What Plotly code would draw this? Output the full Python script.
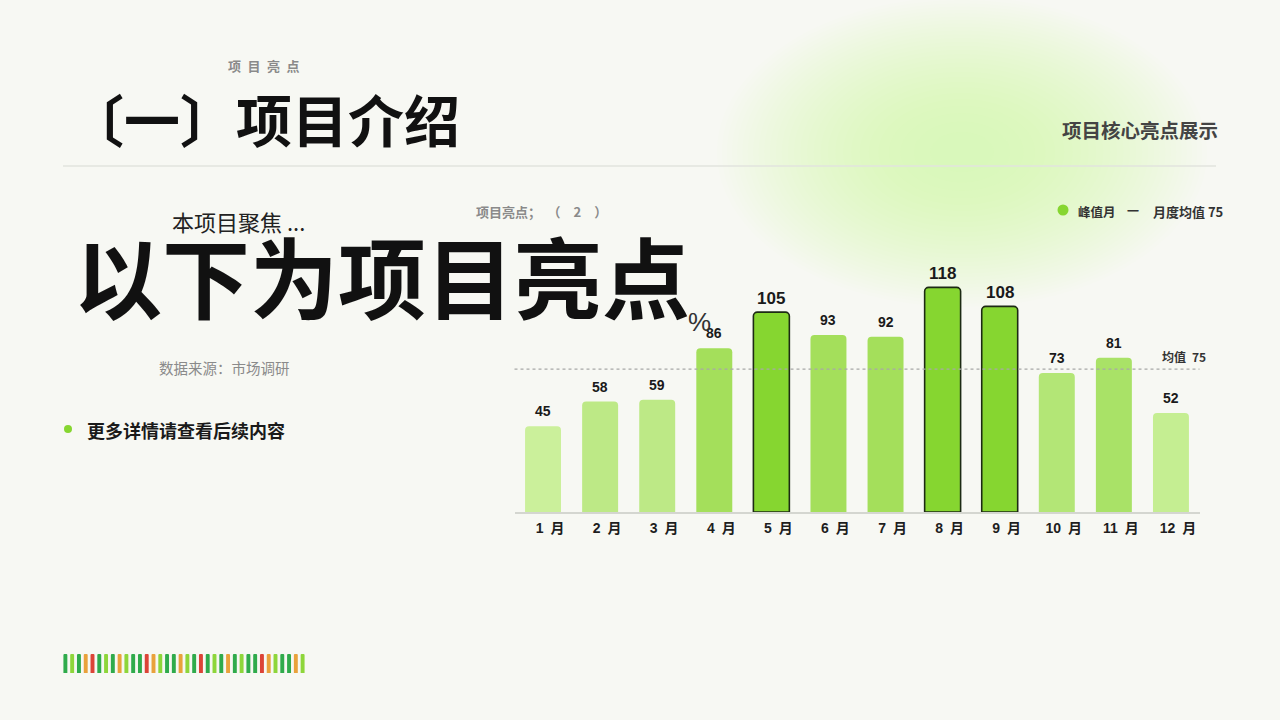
import plotly.graph_objects as go

# ---- data ----
months = ["1 月", "2 月", "3 月", "4 月", "5 月", "6 月",
          "7 月", "8 月", "9 月", "10 月", "11 月", "12 月"]
values = [45, 58, 59, 86, 105, 93, 92, 118, 108, 73, 81, 52]
mean_value = 75
y_max = 130

# decorative strip at the bottom left: g = dark green, l = light green, o = orange, r = red
strip_codes = ["g", "l", "g", "o", "r", "g", "l", "g", "o", "l", "g", "g",
               "r", "o", "l", "g", "g", "o", "l", "g", "r", "g", "l", "g",
               "o", "g", "l", "g", "g", "r", "o", "l", "g", "g", "o", "l"]
strip_heights = [1] * len(strip_codes)

W, H = 1280, 720
BG = "#f7f8f3"
CJK = "Noto Sans CJK SC"
NUM = "Liberation Sans, Noto Sans CJK SC"
STRIP_PALETTE = {"g": "#2fab4b", "l": "#8ed63a", "o": "#e9a23b", "r": "#dc4437"}
EN = "\u2002"
EM = "\u2003"


def px(x):
    return x / W


def py(y):
    return 1 - y / H


def bar_color(v):
    if v >= 100:
        return "#86d630"
    if v >= 85:
        return "#a4df5b"
    if v >= 78:
        return "#a9e267"
    if v >= 65:
        return "#b3e676"
    if v >= 55:
        return "#bde986"
    if v >= 50:
        return "#c5ee92"
    return "#cbf09b"


colors = [bar_color(v) for v in values]
line_w = [1.6 if v >= 100 else 0 for v in values]

fig = go.Figure()

fig.add_trace(go.Bar(
    x=months, y=values, width=0.63,
    marker=dict(color=colors, line=dict(color="#1d2a14", width=line_w), cornerradius=4),
    hoverinfo="x+y", showlegend=False,
))

fig.add_trace(go.Bar(
    x=list(range(len(strip_codes))), y=strip_heights, width=0.58,
    marker=dict(color=[STRIP_PALETTE[c] for c in strip_codes], line=dict(width=0), cornerradius=2),
    xaxis="x2", yaxis="y2", hoverinfo="skip", showlegend=False,
))

annotations = []
# value labels above bars
for m, v in zip(months, values):
    big = v >= 100
    annotations.append(dict(
        x=m, y=v, xref="x", yref="y", text=f"<b>{v}</b>", showarrow=False,
        yanchor="bottom", yshift=2 if big else 5,
        font=dict(family=NUM, size=17 if big else 14, color="#1a1a1a"),
    ))

# mean label
annotations.append(dict(
    x=1, y=mean_value, xref="x domain", yref="y", text=f"<b>均值{EN}{mean_value}</b>",
    showarrow=False, xanchor="right", yanchor="bottom", xshift=8, yshift=2,
    font=dict(family=CJK, size=12, color="#333333"),
))


def txt(text, x, y, size, color, anchor="left", family=CJK):
    annotations.append(dict(
        x=px(x), y=py(y), xref="paper", yref="paper", text=text, showarrow=False,
        xanchor=anchor, yanchor="middle", font=dict(family=family, size=size, color=color),
    ))


txt(f"<b>项{EN}目{EN}亮{EN}点</b>", 226, 65, 13, "#8a8a8a")
txt("<b>〔一〕项目介绍</b>", 66, 118, 56, "#111111")
txt("<b>项目核心亮点展示</b>", 1220, 129, 19.5, "#444444", anchor="right")
txt("本项目聚焦 ...", 170, 221, 22, "#222222")
txt("<b>以下为项目亮点</b>", 72, 273, 88, "#111111")
txt("%", 686, 322, 26, "#333333", family=NUM)
txt(f"<b>项目亮点；{EN}（{EN}{EN}2{EN}{EN}）</b>", 474, 211, 13, "#8a8a8a")
txt("数据来源：市场调研", 157, 367, 14.5, "#8a8a8a")
txt("<b>更多详情请查看后续内容</b>", 85, 430, 18, "#1a1a1a")
txt("<b>峰值月</b>", 1076, 211, 12.5, "#333333")
txt("<b>一</b>", 1125, 210, 12, "#333333")
txt("<b>月度均值 75</b>", 1151, 211, 13, "#333333")

shapes = []
# soft green glow behind the top right heading (stacked translucent ellipses)
n_glow = 30
for i in range(n_glow):
    f = (1 - i / n_glow) ** 0.6
    rx, ry = 245 * f, 155 * f
    cx, cy = 962, 152
    shapes.append(dict(
        type="circle", xref="paper", yref="paper", layer="below",
        x0=px(cx - rx), x1=px(cx + rx), y0=py(cy + ry), y1=py(cy - ry),
        fillcolor="#d0e79c", opacity=0.017, line=dict(width=0),
    ))

# separator under the heading
shapes.append(dict(type="line", xref="paper", yref="paper", x0=px(63), x1=px(1216),
                   y0=py(166), y1=py(166), line=dict(color="#e2e5de", width=1.5)))
# mean line
shapes.append(dict(type="line", xref="x domain", yref="y", x0=0, x1=1,
                   y0=mean_value, y1=mean_value,
                   line=dict(color="#a8a8a8", width=1.2, dash="dot")))
# bullet dot
shapes.append(dict(type="circle", xref="paper", yref="paper",
                   x0=px(64), x1=px(72), y0=py(433), y1=py(425),
                   fillcolor="#86d630", line=dict(width=0)))
# legend dot
shapes.append(dict(type="circle", xref="paper", yref="paper",
                   x0=px(1057.5), x1=px(1068.5), y0=py(215.5), y1=py(204.5),
                   fillcolor="#86d630", line=dict(width=0)))

fig.update_layout(
    width=W, height=H,
    margin=dict(l=0, r=0, t=0, b=0),
    paper_bgcolor=BG, plot_bgcolor="rgba(0,0,0,0)",
    xaxis=dict(
        domain=[px(514.5), px(1199.5)], range=[-0.5, 11.5],
        showgrid=False, zeroline=False, showline=True, linecolor="#d4d6d0", linewidth=1.5,
        ticks="", ticklabelstandoff=2,
        tickfont=dict(family=NUM, size=14, color="#1e1e1e"),
        # labels sit a little right of the bar centres in the original
        tickvals=months, ticktext=[f"<b>{EM}{m.replace(' ', EN)}</b>" for m in months],
        fixedrange=True,
    ),
    yaxis=dict(
        domain=[py(512), py(512) + y_max * 1.904 / H], range=[0, y_max],
        visible=False, fixedrange=True,
    ),
    xaxis2=dict(domain=[px(62), px(306)], range=[-0.5, len(strip_codes) - 0.5],
                visible=False, anchor="y2"),
    yaxis2=dict(domain=[py(673), py(654)], range=[0, 1], visible=False, anchor="x2"),
    annotations=annotations,
    shapes=shapes,
)

# page body has a default 8px margin; drop it so the figure fills the window
fig.write_html("out.html", config={"displayModeBar": False},
               post_script="document.body.style.margin='0';")
